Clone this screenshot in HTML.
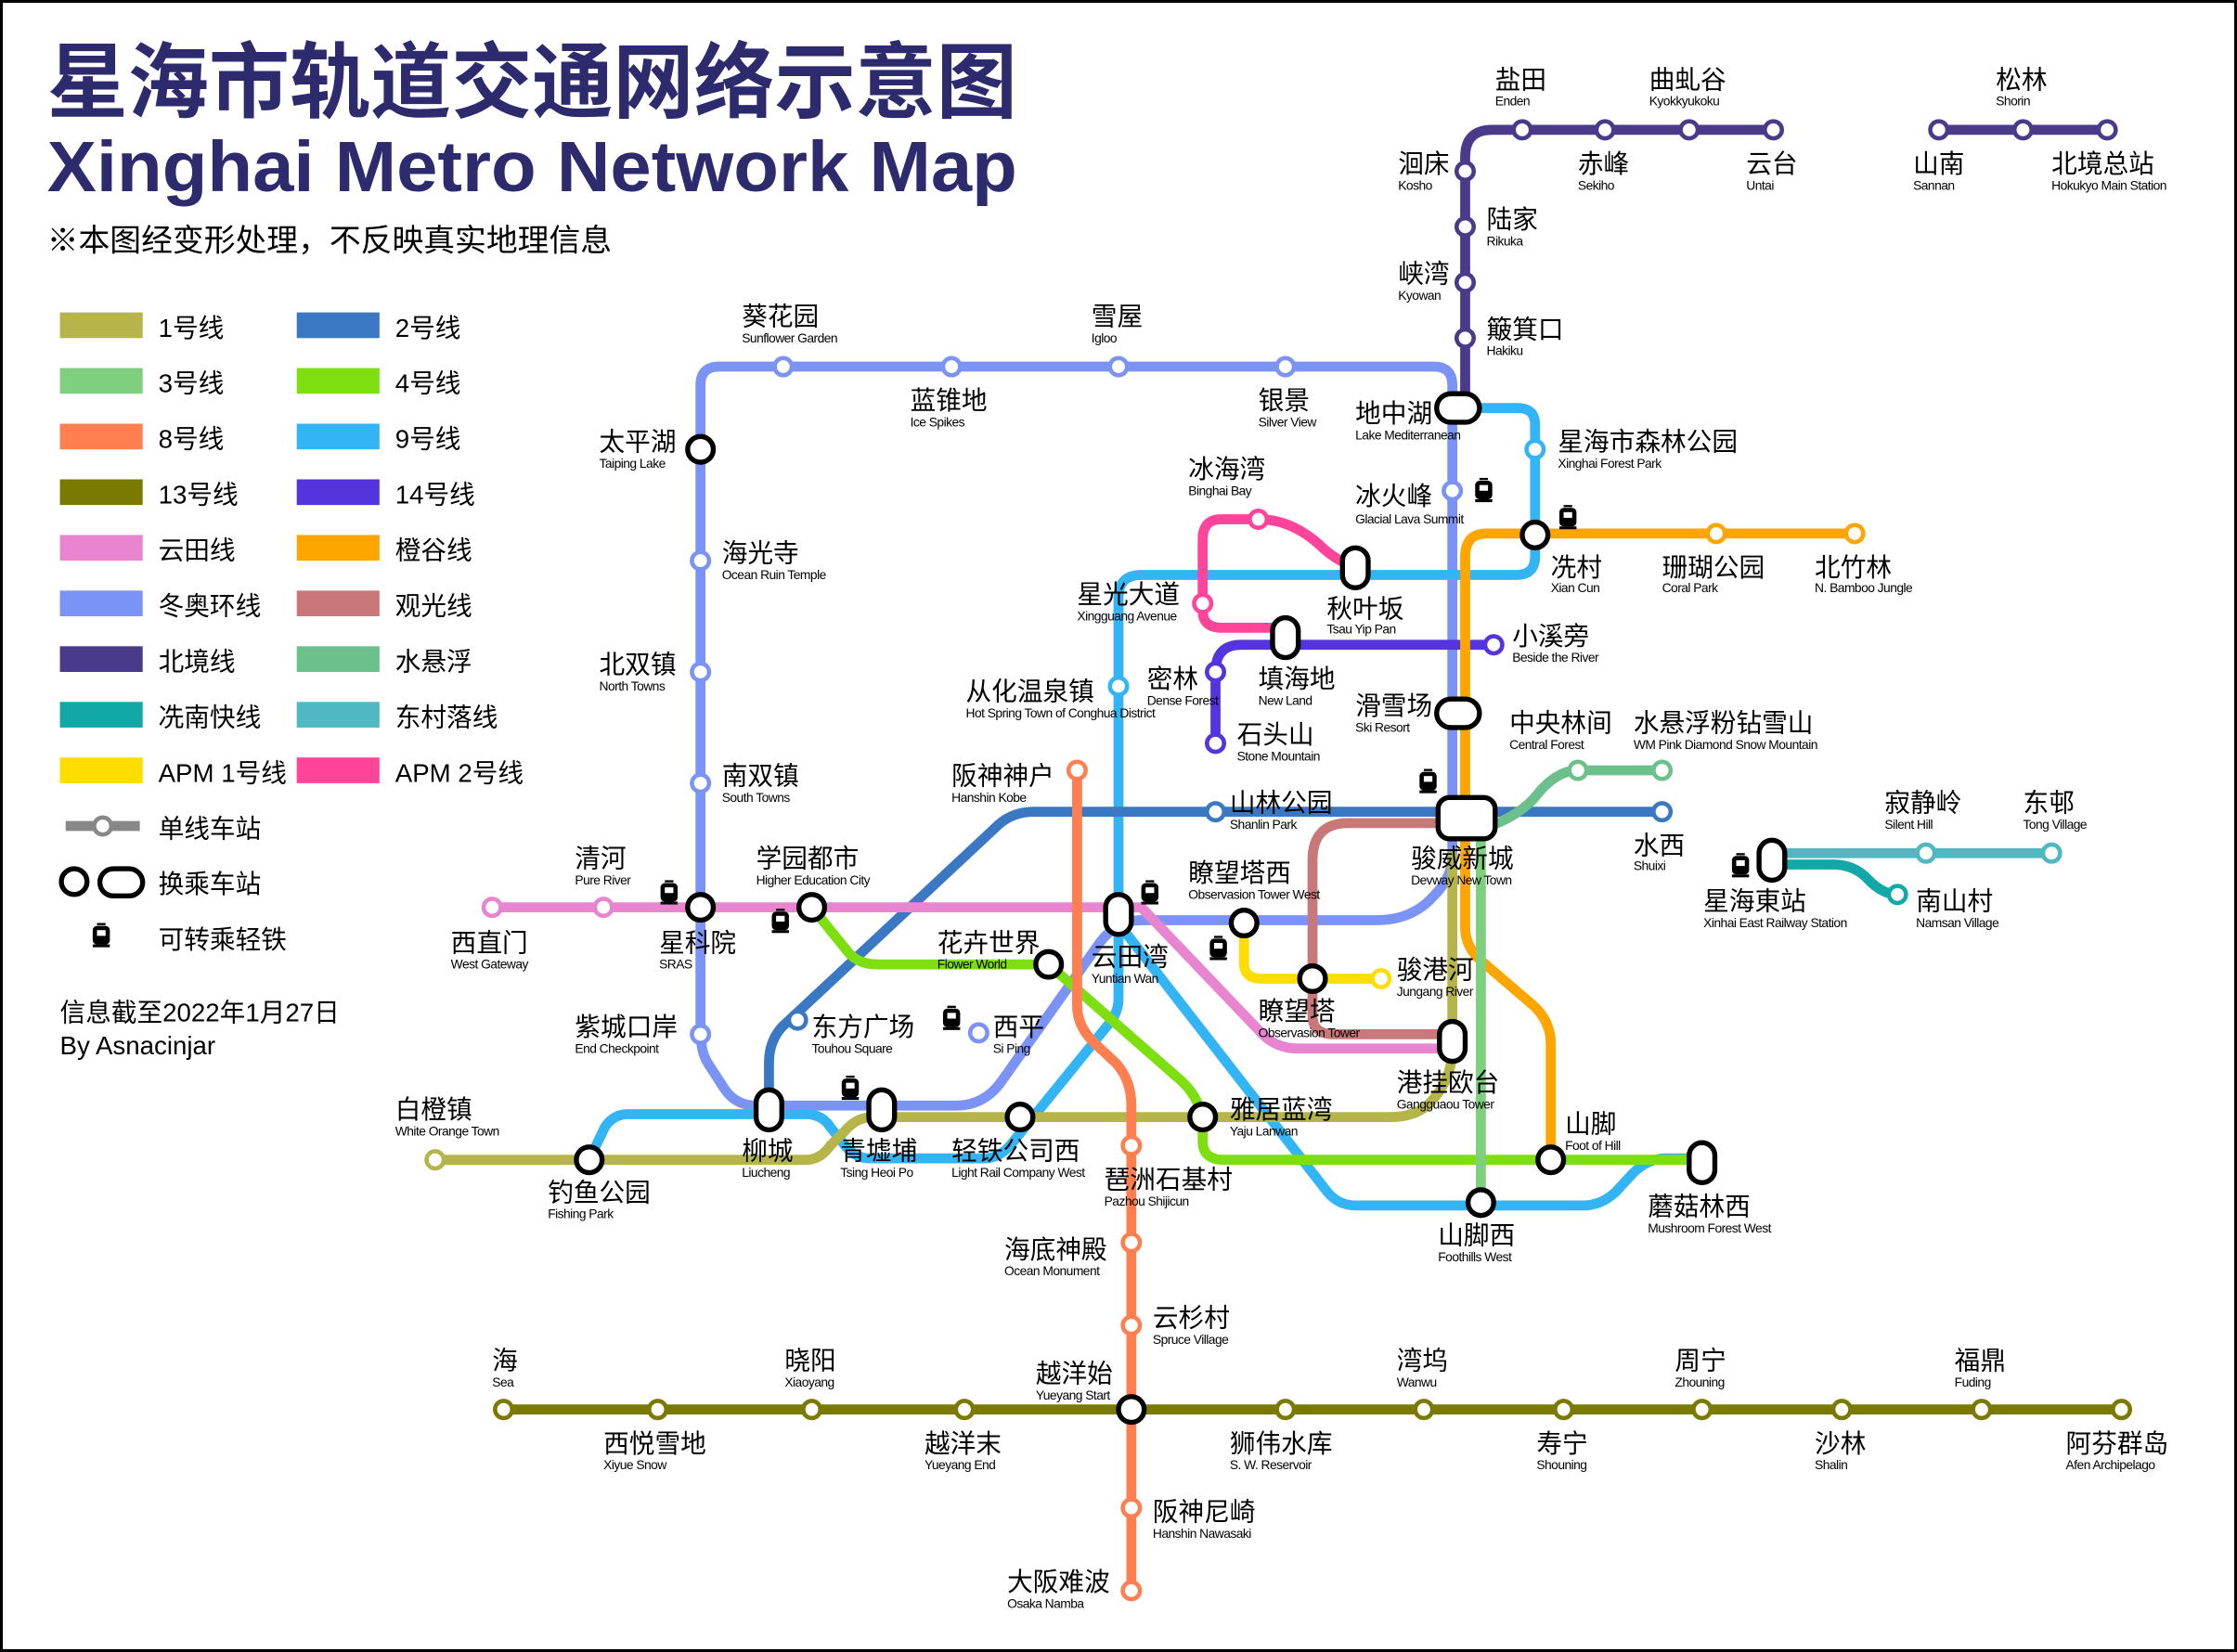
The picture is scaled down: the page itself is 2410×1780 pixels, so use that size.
<!DOCTYPE html>
<html><head><meta charset="utf-8"><style>
html,body{margin:0;padding:0;background:#fff}
svg{display:block}
.c{font-family:"Liberation Sans","Noto Sans CJK SC",sans-serif;font-size:18px;fill:#000}
.e{font-family:"Liberation Sans",sans-serif;font-size:9px;letter-spacing:-0.35px;fill:#000}
.l{fill:none;stroke-width:7;stroke-linecap:round;stroke-linejoin:round}
.s{fill:#fff;stroke-width:3}
.x{fill:#fff;stroke:#000;stroke-width:3.5}
</style></head><body>
<svg width="2410" height="1780" viewBox="0 0 1568 1158" preserveAspectRatio="none" xmlns="http://www.w3.org/2000/svg">
<rect x="1" y="1" width="1566" height="1156" fill="#fff" stroke="#000" stroke-width="2"/>
<!-- Title -->
<text x="33" y="78" font-family="Liberation Sans,'Noto Sans CJK SC',sans-serif" font-weight="bold" font-size="58" fill="#2d2a6e" textLength="680" lengthAdjust="spacingAndGlyphs">星海市轨道交通网络示意图</text>
<text x="33" y="134" font-family="Liberation Sans,sans-serif" font-weight="bold" font-size="50" fill="#2d2a6e" textLength="680" lengthAdjust="spacingAndGlyphs">Xinghai  Metro  Network  Map</text>
<text x="33" y="176" class="c" style="font-size:22px">※本图经变形处理，不反映真实地理信息</text>
<!-- Legend -->
<g class="c">
<rect x="42" y="219" width="58" height="18" fill="#b5b54a"/><text x="111" y="236">1号线</text>
<rect x="42" y="258" width="58" height="18" fill="#7ecf7e"/><text x="111" y="275">3号线</text>
<rect x="42" y="297" width="58" height="18" fill="#ff7f50"/><text x="111" y="314">8号线</text>
<rect x="42" y="336" width="58" height="18" fill="#7a7a00"/><text x="111" y="353">13号线</text>
<rect x="42" y="375" width="58" height="18" fill="#e884d0"/><text x="111" y="392">云田线</text>
<rect x="42" y="414" width="58" height="18" fill="#7b93f5"/><text x="111" y="431">冬奥环线</text>
<rect x="42" y="453" width="58" height="18" fill="#4b3a8a"/><text x="111" y="470">北境线</text>
<rect x="42" y="492" width="58" height="18" fill="#13a8a8"/><text x="111" y="509">冼南快线</text>
<rect x="42" y="531" width="58" height="18" fill="#ffdd00"/><text x="111" y="548">APM 1号线</text>
<rect x="208" y="219" width="58" height="18" fill="#3b78c4"/><text x="277" y="236">2号线</text>
<rect x="208" y="258" width="58" height="18" fill="#7ddf10"/><text x="277" y="275">4号线</text>
<rect x="208" y="297" width="58" height="18" fill="#33b5f5"/><text x="277" y="314">9号线</text>
<rect x="208" y="336" width="58" height="18" fill="#5533dd"/><text x="277" y="353">14号线</text>
<rect x="208" y="375" width="58" height="18" fill="#ffa500"/><text x="277" y="392">橙谷线</text>
<rect x="208" y="414" width="58" height="18" fill="#c87878"/><text x="277" y="431">观光线</text>
<rect x="208" y="453" width="58" height="18" fill="#6cc08c"/><text x="277" y="470">水悬浮</text>
<rect x="208" y="492" width="58" height="18" fill="#50b8c0"/><text x="277" y="509">东村落线</text>
<rect x="208" y="531" width="58" height="18" fill="#ff4499"/><text x="277" y="548">APM 2号线</text>
<text x="111" y="587">单线车站</text><text x="111" y="626">换乘车站</text><text x="111" y="665">可转乘轻铁</text>
<text x="42" y="716">信息截至2022年1月27日</text><text x="42" y="739">By Asnacinjar</text>
</g>
<line x1="46" y1="579" x2="98" y2="579" stroke="#888" stroke-width="7"/>
<circle cx="72" cy="579" r="6" class="s" stroke="#888"/>
<circle cx="52" cy="618" r="9" class="x"/><rect x="70" y="609" width="30" height="19" rx="9.5" class="x"/>
<!-- Lines -->
<g class="l">
<path stroke="#7b93f5" d="M491,270 Q491,257 504,257 L1005,257 Q1018,257 1018,270 L1018,600 Q1018,615 1005,628 Q990,645 965,645 L800,645 Q782,645 770,662 L702,758 Q690,775 670,775 L530,775 Q515,775 507,762 L496,745 Q491,737 491,722 Z"/>
<path stroke="#4b3a8a" d="M1027,286 L1027,110 Q1027,91 1046,91 L1243,91"/>
<path stroke="#4b3a8a" d="M1359,91 L1477,91"/>
<path stroke="#33b5f5" d="M1030,286 L1064,286 Q1076,286 1076,298 L1076,390 Q1076,403 1063,403 L800,403 Q784,403 784,419 L784,700 Q784,710 777,718 L708,803 Q700,812 690,812 L610,812 Q598,812 590,800 L582,790 Q576,781 565,781 L440,781 Q430,781 424,790 L413,813"/>
<path stroke="#33b5f5" d="M790,655 L930,835 Q938,845 950,845 L1110,845 Q1122,845 1132,836 L1145,822 Q1155,812 1168,812 L1193,812"/>
<path stroke="#b5b54a" d="M305,813 L565,813 Q575,813 582,803 L592,793 Q600,783 612,783 L975,783 Q995,783 1005,770 Q1018,755 1018,735 L1018,600"/>
<path stroke="#3b78c4" d="M539,775 L539,745 Q539,730 548,720 L700,578 Q710,569 725,569 L1165,569"/>
<path stroke="#e884d0" d="M345,636 L800,636 L885,725 Q895,735 910,735 L1018,735"/>
<path stroke="#7ddf10" d="M569,636 L595,668 Q602,676 615,676 L735,676 L825,755 Q843,770 843,790 L843,800 Q843,813 858,813 L1193,813"/>
<path stroke="#ff7f50" d="M755,540 L755,705 Q755,720 768,732 L782,745 Q793,757 793,775 L793,1115"/>
<path stroke="#7a7a00" d="M353,988 L1487,988"/>
<path stroke="#5533dd" d="M852,521 L852,471 Q852,452 870,452 L1047,452"/>
<path stroke="#ff4499" d="M950,398 Q935,392 925,382 Q905,364 882,364 L856,364 Q843,364 843,378 L843,428 Q843,440 856,440 L901,440"/>
<path stroke="#ffdd00" d="M872,647 L872,675 Q872,686 884,686 L968,686"/>
<path stroke="#c87878" d="M1010,577 L945,577 Q920,577 920,603 L920,712 Q920,725 935,725 L1018,725"/>
<path stroke="#ffa500" d="M1300,374 L1042,374 Q1027,374 1027,390 L1027,650 Q1027,665 1040,675 L1075,705 Q1087,716 1087,732 L1087,813"/>
<path stroke="#7ecf7e" d="M1038,580 L1038,843"/>
<path stroke="#6cc08c" d="M1040,580 Q1060,575 1075,560 Q1090,540 1106,540 L1165,540"/>
<path stroke="#50b8c0" d="M1242,598 L1438,598"/>
<path stroke="#13a8a8" d="M1242,606 L1285,606 Q1300,606 1310,617 Q1320,627 1330,627"/>
</g>
<!-- Single stations -->
<g class="s">
<g stroke="#4b3a8a"><circle cx="1027" cy="120" r="6"/><circle cx="1027" cy="159" r="6"/><circle cx="1027" cy="198" r="6"/><circle cx="1027" cy="237" r="6"/><circle cx="1067" cy="91" r="6"/><circle cx="1125" cy="91" r="6"/><circle cx="1184" cy="91" r="6"/><circle cx="1243" cy="91" r="6"/><circle cx="1359" cy="91" r="6"/><circle cx="1418" cy="91" r="6"/><circle cx="1477" cy="91" r="6"/></g>
<g stroke="#7b93f5"><circle cx="549" cy="257" r="6"/><circle cx="667" cy="257" r="6"/><circle cx="784" cy="257" r="6"/><circle cx="901" cy="257" r="6"/><circle cx="1018" cy="344" r="6"/><circle cx="491" cy="393" r="6"/><circle cx="491" cy="471" r="6"/><circle cx="491" cy="549" r="6"/><circle cx="491" cy="725" r="6"/><circle cx="686" cy="724" r="6"/></g>
<g stroke="#33b5f5"><circle cx="1076" cy="315" r="6"/><circle cx="784" cy="481" r="6"/></g>
<g stroke="#ffa500"><circle cx="1203" cy="374" r="6"/><circle cx="1300" cy="374" r="6"/></g>
<g stroke="#ff4499"><circle cx="882" cy="364" r="6"/><circle cx="843" cy="423" r="6"/></g>
<g stroke="#5533dd"><circle cx="1047" cy="452" r="6"/><circle cx="852" cy="471" r="6"/><circle cx="852" cy="521" r="6"/></g>
<g stroke="#6cc08c"><circle cx="1106" cy="540" r="6"/><circle cx="1165" cy="540" r="6"/></g>
<g stroke="#3b78c4"><circle cx="1165" cy="569" r="6"/><circle cx="852" cy="569" r="6"/><circle cx="559" cy="715" r="6"/></g>
<g stroke="#50b8c0"><circle cx="1350" cy="598" r="6"/><circle cx="1438" cy="598" r="6"/></g>
<g stroke="#13a8a8"><circle cx="1330" cy="627" r="6"/></g>
<g stroke="#e884d0"><circle cx="345" cy="636" r="6"/><circle cx="423" cy="636" r="6"/></g>
<g stroke="#ffdd00"><circle cx="968" cy="686" r="6"/></g>
<g stroke="#b5b54a"><circle cx="305" cy="813" r="6"/></g>
<g stroke="#ff7f50"><circle cx="755" cy="540" r="6"/><circle cx="793" cy="803" r="6"/><circle cx="793" cy="871" r="6"/><circle cx="793" cy="929" r="6"/><circle cx="793" cy="1057" r="6"/><circle cx="793" cy="1115" r="6"/></g>
<g stroke="#7a7a00"><circle cx="353" cy="988" r="6"/><circle cx="461" cy="988" r="6"/><circle cx="569" cy="988" r="6"/><circle cx="676" cy="988" r="6"/><circle cx="901" cy="988" r="6"/><circle cx="998" cy="988" r="6"/><circle cx="1096" cy="988" r="6"/><circle cx="1193" cy="988" r="6"/><circle cx="1291" cy="988" r="6"/><circle cx="1389" cy="988" r="6"/><circle cx="1487" cy="988" r="6"/></g>
</g>
<!-- Interchanges -->
<g class="x">
<rect x="1007" y="276" width="30" height="20" rx="10"/>
<circle cx="1076" cy="375" r="9"/>
<rect x="941" y="384" width="18" height="28" rx="9"/>
<rect x="892" y="433" width="18" height="28" rx="9"/>
<rect x="1007" y="490" width="30" height="20" rx="10"/>
<rect x="1008" y="559" width="40" height="29" rx="8"/>
<rect x="1233" y="589" width="18" height="28" rx="9"/>
<circle cx="491" cy="315" r="9"/><circle cx="491" cy="636" r="9"/><circle cx="569" cy="636" r="9"/>
<rect x="775" y="627" width="18" height="28" rx="9"/>
<circle cx="872" cy="647" r="9"/><circle cx="735" cy="676" r="9"/><circle cx="920" cy="686" r="9"/>
<rect x="1009" y="716" width="18" height="28" rx="9"/>
<rect x="530" y="764" width="18" height="28" rx="9"/>
<rect x="609" y="764" width="18" height="28" rx="9"/>
<circle cx="715" cy="783" r="9"/><circle cx="843" cy="783" r="9"/><circle cx="413" cy="813" r="9"/><circle cx="1087" cy="813" r="9"/>
<rect x="1184" y="801" width="18" height="28" rx="9"/>
<circle cx="1038" cy="843" r="9"/><circle cx="793" cy="988" r="9"/>
</g>
<!-- train icons -->
<g fill="#000">
<g transform="translate(1040,345)"><rect x="-6" y="-8" width="12" height="13" rx="3"/><rect x="-3" y="-5" width="6" height="4" fill="#fff"/><rect x="-6" y="5" width="12" height="2"/><rect x="-3" y="-10" width="6" height="1.5"/></g>
<g transform="translate(1099,364)"><rect x="-6" y="-8" width="12" height="13" rx="3"/><rect x="-3" y="-5" width="6" height="4" fill="#fff"/><rect x="-6" y="5" width="12" height="2"/><rect x="-3" y="-10" width="6" height="1.5"/></g>
<g transform="translate(1001,549)"><rect x="-6" y="-8" width="12" height="13" rx="3"/><rect x="-3" y="-5" width="6" height="4" fill="#fff"/><rect x="-6" y="5" width="12" height="2"/><rect x="-3" y="-10" width="6" height="1.5"/></g>
<g transform="translate(806,627)"><rect x="-6" y="-8" width="12" height="13" rx="3"/><rect x="-3" y="-5" width="6" height="4" fill="#fff"/><rect x="-6" y="5" width="12" height="2"/><rect x="-3" y="-10" width="6" height="1.5"/></g>
<g transform="translate(854,666)"><rect x="-6" y="-8" width="12" height="13" rx="3"/><rect x="-3" y="-5" width="6" height="4" fill="#fff"/><rect x="-6" y="5" width="12" height="2"/><rect x="-3" y="-10" width="6" height="1.5"/></g>
<g transform="translate(469,627)"><rect x="-6" y="-8" width="12" height="13" rx="3"/><rect x="-3" y="-5" width="6" height="4" fill="#fff"/><rect x="-6" y="5" width="12" height="2"/><rect x="-3" y="-10" width="6" height="1.5"/></g>
<g transform="translate(547,647)"><rect x="-6" y="-8" width="12" height="13" rx="3"/><rect x="-3" y="-5" width="6" height="4" fill="#fff"/><rect x="-6" y="5" width="12" height="2"/><rect x="-3" y="-10" width="6" height="1.5"/></g>
<g transform="translate(667,715)"><rect x="-6" y="-8" width="12" height="13" rx="3"/><rect x="-3" y="-5" width="6" height="4" fill="#fff"/><rect x="-6" y="5" width="12" height="2"/><rect x="-3" y="-10" width="6" height="1.5"/></g>
<g transform="translate(596,764)"><rect x="-6" y="-8" width="12" height="13" rx="3"/><rect x="-3" y="-5" width="6" height="4" fill="#fff"/><rect x="-6" y="5" width="12" height="2"/><rect x="-3" y="-10" width="6" height="1.5"/></g>
<g transform="translate(1220,608)"><rect x="-6" y="-8" width="12" height="13" rx="3"/><rect x="-3" y="-5" width="6" height="4" fill="#fff"/><rect x="-6" y="5" width="12" height="2"/><rect x="-3" y="-10" width="6" height="1.5"/></g>
<g transform="translate(71,657)"><rect x="-6" y="-8" width="12" height="13" rx="3"/><rect x="-3" y="-5" width="6" height="4" fill="#fff"/><rect x="-6" y="5" width="12" height="2"/><rect x="-3" y="-10" width="6" height="1.5"/></g>
</g>
<!-- Labels -->
<g class="c">
<text x="1048" y="62">盐田</text><text x="1156" y="62">曲虬谷</text><text x="1399" y="62">松林</text>
<text x="980" y="121">洄床</text><text x="1106" y="121">赤峰</text><text x="1224" y="121">云台</text><text x="1341" y="121">山南</text><text x="1438" y="121">北境总站</text>
<text x="1042" y="160">陆家</text><text x="980" y="198">峡湾</text><text x="1042" y="237">簸箕口</text>
<text x="520" y="228">葵花园</text><text x="765" y="228">雪屋</text><text x="638" y="287">蓝锥地</text><text x="882" y="287">银景</text>
<text x="950" y="296">地中湖</text><text x="1092" y="316">星海市森林公园</text><text x="420" y="316">太平湖</text>
<text x="833" y="335">冰海湾</text><text x="950" y="354">冰火峰</text>
<text x="1087" y="404">冼村</text><text x="1165" y="404">珊瑚公园</text><text x="1272" y="404">北竹林</text>
<text x="506" y="394">海光寺</text><text x="755" y="423">星光大道</text><text x="930" y="433">秋叶坂</text><text x="1060" y="452">小溪旁</text>
<text x="420" y="472">北双镇</text><text x="677" y="491">从化温泉镇</text><text x="804" y="482">密林</text><text x="882" y="482">填海地</text>
<text x="950" y="501">滑雪场</text><text x="1058" y="513">中央林间</text><text x="1145" y="513">水悬浮粉钻雪山</text><text x="867" y="521">石头山</text>
<text x="506" y="550">南双镇</text><text x="667" y="550">阪神神户</text><text x="862" y="569">山林公园</text><text x="1321" y="569">寂静岭</text><text x="1418" y="569">东邨</text>
<text x="1145" y="599">水西</text><text x="989" y="608">骏威新城</text><text x="403" y="608">清河</text><text x="530" y="608">学园都市</text><text x="833" y="618">瞭望塔西</text>
<text x="1194" y="638">星海東站</text><text x="1343" y="638">南山村</text>
<text x="316" y="667">西直门</text><text x="462" y="667">星科院</text><text x="657" y="667">花卉世界</text><text x="765" y="677">云田湾</text><text x="979" y="686">骏港河</text>
<text x="882" y="715">瞭望塔</text><text x="403" y="726">紫城口岸</text><text x="569" y="726">东方广场</text><text x="696" y="726">西平</text>
<text x="979" y="765">港挂欧台</text><text x="277" y="784">白橙镇</text><text x="862" y="784">雅居蓝湾</text><text x="1097" y="794">山脚</text>
<text x="520" y="813">柳城</text><text x="589" y="813">青墟埔</text><text x="667" y="813">轻铁公司西</text><text x="774" y="833">琶洲石基村</text>
<text x="384" y="842">钓鱼公园</text><text x="1155" y="852">蘑菇林西</text><text x="1008" y="872">山脚西</text><text x="704" y="882">海底神殿</text><text x="808" y="930">云杉村</text>
<text x="345" y="960">海</text><text x="550" y="960">晓阳</text><text x="726" y="969">越洋始</text><text x="979" y="960">湾坞</text><text x="1174" y="960">周宁</text><text x="1370" y="960">福鼎</text>
<text x="423" y="1018">西悦雪地</text><text x="648" y="1018">越洋末</text><text x="862" y="1018">狮伟水库</text><text x="1077" y="1018">寿宁</text><text x="1272" y="1018">沙林</text><text x="1448" y="1018">阿芬群岛</text>
<text x="808" y="1066">阪神尼崎</text><text x="706" y="1115">大阪难波</text>
</g>
<g class="e">
<text x="1048" y="74">Enden</text><text x="1156" y="74">Kyokkyukoku</text><text x="1399" y="74">Shorin</text>
<text x="980" y="133">Kosho</text><text x="1106" y="133">Sekiho</text><text x="1224" y="133">Untai</text><text x="1341" y="133">Sannan</text><text x="1438" y="133">Hokukyo Main Station</text>
<text x="1042" y="172">Rikuka</text><text x="980" y="210">Kyowan</text><text x="1042" y="249">Hakiku</text>
<text x="520" y="240">Sunflower Garden</text><text x="765" y="240">Igloo</text><text x="638" y="299">Ice Spikes</text><text x="882" y="299">Silver View</text>
<text x="950" y="308">Lake Mediterranean</text><text x="1092" y="328">Xinghai Forest Park</text><text x="420" y="328">Taiping Lake</text>
<text x="833" y="347">Binghai Bay</text><text x="950" y="367">Glacial Lava Summit</text>
<text x="1087" y="415">Xian Cun</text><text x="1165" y="415">Coral Park</text><text x="1272" y="415">N. Bamboo Jungle</text>
<text x="506" y="406">Ocean Ruin Temple</text><text x="755" y="435">Xingguang Avenue</text><text x="930" y="444">Tsau Yip Pan</text><text x="1060" y="464">Beside the River</text>
<text x="420" y="484">North Towns</text><text x="677" y="503">Hot Spring Town of Conghua District</text><text x="804" y="494">Dense Forest</text><text x="882" y="494">New Land</text>
<text x="950" y="513">Ski Resort</text><text x="1058" y="525">Central Forest</text><text x="1145" y="525">WM Pink Diamond Snow Mountain</text><text x="867" y="533">Stone Mountain</text>
<text x="506" y="562">South Towns</text><text x="667" y="562">Hanshin Kobe</text><text x="862" y="581">Shanlin Park</text><text x="1321" y="581">Silent Hill</text><text x="1418" y="581">Tong Village</text>
<text x="1145" y="610">Shuixi</text><text x="989" y="620">Devway New Town</text><text x="403" y="620">Pure River</text><text x="530" y="620">Higher Education City</text><text x="833" y="630">Observasion Tower West</text>
<text x="1194" y="650">Xinhai East Railway Station</text><text x="1343" y="650">Namsan Village</text>
<text x="316" y="679">West Gateway</text><text x="462" y="679">SRAS</text><text x="657" y="679">Flower World</text><text x="765" y="689">Yuntian Wan</text><text x="979" y="698">Jungang River</text>
<text x="882" y="727">Observasion Tower</text><text x="403" y="738">End Checkpoint</text><text x="569" y="738">Touhou Square</text><text x="696" y="738">Si Ping</text>
<text x="979" y="777">Gangguaou Tower</text><text x="277" y="796">White Orange Town</text><text x="862" y="796">Yaju Lanwan</text><text x="1097" y="806">Foot of Hill</text>
<text x="520" y="825">Liucheng</text><text x="589" y="825">Tsing Heoi Po</text><text x="667" y="825">Light Rail Company West</text><text x="774" y="845">Pazhou Shijicun</text>
<text x="384" y="854">Fishing Park</text><text x="1155" y="864">Mushroom Forest West</text><text x="1008" y="884">Foothills West</text><text x="704" y="894">Ocean Monument</text><text x="808" y="942">Spruce Village</text>
<text x="345" y="972">Sea</text><text x="550" y="972">Xiaoyang</text><text x="726" y="981">Yueyang Start</text><text x="979" y="972">Wanwu</text><text x="1174" y="972">Zhouning</text><text x="1370" y="972">Fuding</text>
<text x="423" y="1030">Xiyue Snow</text><text x="648" y="1030">Yueyang End</text><text x="862" y="1030">S. W. Reservoir</text><text x="1077" y="1030">Shouning</text><text x="1272" y="1030">Shalin</text><text x="1448" y="1030">Afen Archipelago</text>
<text x="808" y="1078">Hanshin Nawasaki</text><text x="706" y="1127">Osaka Namba</text>
</g>
</svg>
</body></html>
